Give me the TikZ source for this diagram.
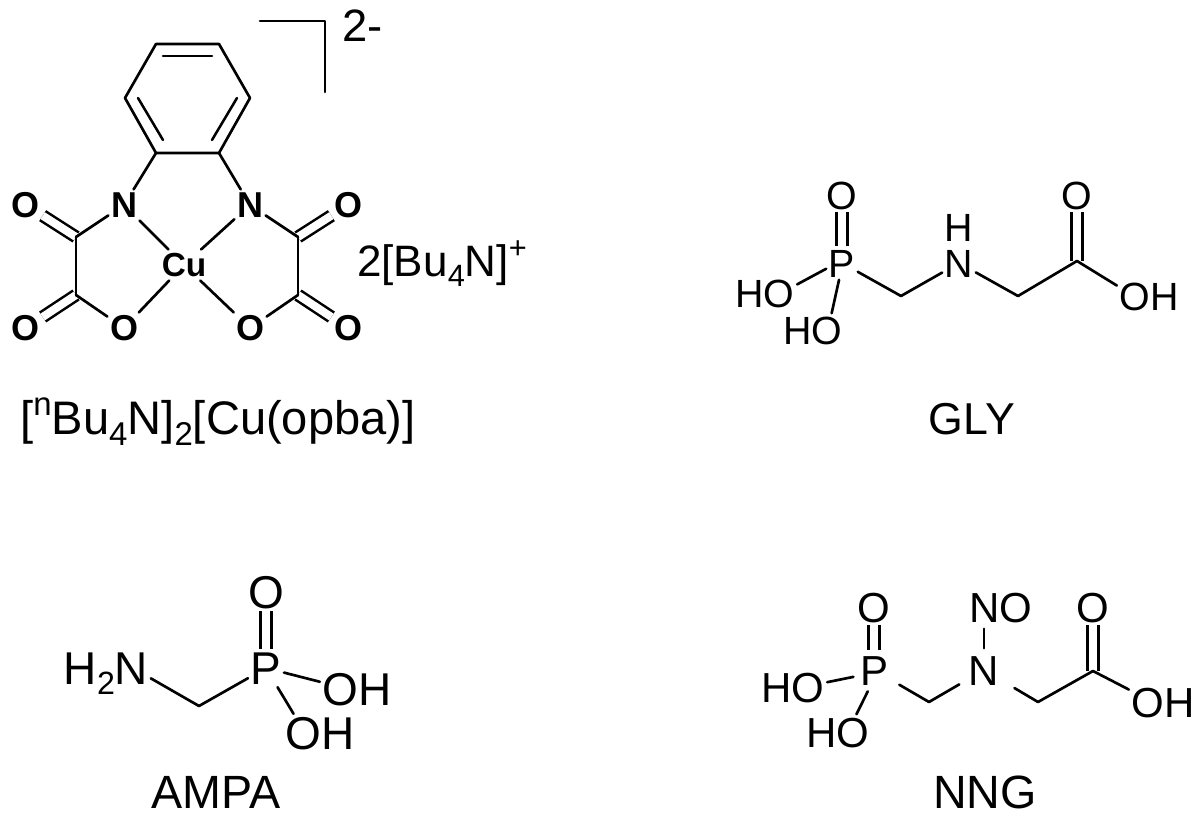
\documentclass[tikz,border=0pt]{standalone}
\usepackage{fontspec}
\setmainfont{Liberation Sans}
\newcommand{\fs}[1]{\fontsize{#1}{#1}\selectfont}
\newcommand{\subx}[1]{\raisebox{-0.22em}{\fontsize{0.7em}{0.7em}\selectfont #1}}
\newcommand{\supx}[1]{\raisebox{0.42em}{\fontsize{0.7em}{0.7em}\selectfont #1}}
\tikzset{
  bond/.style={line width=2pt,line cap=round,line join=round,black},
  dbl/.style={line width=1.9pt,double,double distance=6pt,black},
  inner/.style={line width=1.9pt,line cap=round,black},
  atombase/.style={inner sep=2pt,outer sep=0pt,text depth=0pt,black},
  boldatom/.style={atombase,font=\fs{27}\bfseries,text height=19.4pt},
  cu/.style={atombase,font=\fs{25}\bfseries,text height=18pt},
  gatom/.style={atombase,font=\fs{29.5},text height=21.2pt},
  aatom/.style={atombase,font=\fs{34.5},text height=24.8pt},
  natom/.style={atombase,font=\fs{31.5},text height=22.7pt},
  title/.style={inner sep=0pt,anchor=base,font=\fs{35},black},
  capt/.style={inner sep=0pt,anchor=base west,font=\fs{34},black}
}
\begin{document}
\begin{tikzpicture}[x=0.75pt,y=-0.75pt]
\useasboundingbox[fill=white] (0,0) rectangle (1200,823);

% --- [Cu(opba)] ---
\coordinate (r1) at (156,44);
\coordinate (r2) at (219,44);
\coordinate (r3) at (250,98);
\coordinate (r4) at (219,153);
\coordinate (r5) at (156,153);
\coordinate (r6) at (125,98);
\coordinate (i1a) at (163,56);
\coordinate (i1b) at (212,56);
\coordinate (i2a) at (138,98);
\coordinate (i2b) at (163,140);
\coordinate (i3a) at (237,98);
\coordinate (i3b) at (212,140);
\coordinate (c1) at (76,237);
\coordinate (c2) at (76,295);
\coordinate (c3) at (298,237);
\coordinate (c4) at (298,295);
\coordinate (b1) at (260,21);
\coordinate (b2) at (325,21);
\coordinate (b3) at (325,92);
\node[boldatom] (N1) at (124,205) {N};
\node[boldatom] (N2) at (250,205) {N};
\node[boldatom] (O1) at (26,205) {O};
\node[boldatom] (O2) at (348,205) {O};
\node[boldatom] (O3) at (26,328) {O};
\node[boldatom] (O4) at (348,328) {O};
\node[boldatom] (O5) at (124,328) {O};
\node[boldatom] (O6) at (250,328) {O};
\node[cu] (Cu) at (184,265) {Cu};
\node[capt] (charge) at (342,42) {2-};
\node[capt,font=\fs{33}] (cat) at (357,277) {2[Bu\subx{4}N]\supx{+}};
\node[capt,font=\fs{35.3}] (cap1) at (20,435) {[\supx{n}Bu\subx{4}N]\subx{2}[Cu(opba)]};
\draw[dbl] (O1) -- (c1);
\draw[dbl] (O2) -- (c3);
\draw[dbl] (O3) -- (c2);
\draw[dbl] (O4) -- (c4);
\draw[bond] (r1) -- (r2) -- (r3) -- (r4) -- (r5) -- (r6) -- cycle;
\draw[inner] (i1a) -- (i1b);
\draw[inner] (i2a) -- (i2b);
\draw[inner] (i3a) -- (i3b);
\draw[bond] (r5) -- (N1);
\draw[bond] (r4) -- (N2);
\draw[bond] (N1) -- (c1);
\draw[bond] (N2) -- (c3);
\draw[bond] (c1) -- (c2);
\draw[bond] (c3) -- (c4);
\draw[bond] (c2) -- (O5);
\draw[bond] (c4) -- (O6);
\draw[bond,shorten >=1pt] (N1) -- (Cu);
\draw[bond,shorten >=1pt] (N2) -- (Cu);
\draw[bond,shorten >=1pt] (O5) -- (Cu);
\draw[bond,shorten >=1pt] (O6) -- (Cu);
\draw[bond] (b1) -- (b2) -- (b3);

% --- GLY ---
\coordinate (gc1) at (901,296);
\coordinate (gc2) at (1018,296);
\coordinate (gc3) at (1077,261);
\node[gatom] (gO1) at (842,195) {O};
\node[gatom] (gP) at (842,263) {P};
\node[gatom] (gHO1) at (765,293) {HO};
\node[gatom] (gHO2) at (813,330) {HO};
\node[gatom] (gN) at (959,263) {N};
\node[gatom] (gH) at (959,227) {H};
\node[gatom] (gO2) at (1077,195) {O};
\node[gatom] (gOH) at (1149,296) {OH};
\node[title,font=\fs{33.5}] (gT) at (972,435) {GLY};
\draw[dbl] (gO1) -- (gP);
\draw[dbl] (gO2) -- (gc3);
\draw[bond] (gP.200) -- (gHO1.15);
\draw[bond] (gP.260) -- (gHO2.42);
\draw[bond] (gP) -- (gc1);
\draw[bond] (gc1) -- (gN);
\draw[bond] (gN) -- (gc2);
\draw[bond] (gc2) -- (gc3);
\draw[bond] (gc3) -- (gOH.162);

% --- AMPA ---
\coordinate (ac1) at (199,706);
\node[aatom] (aO) at (266,592) {O};
\node[aatom] (aP) at (266,668) {P};
\node[aatom] (aN) at (106,668) {H\subx{2}N};
\node[aatom] (aOH1) at (357,689) {OH};
\node[aatom] (aOH2) at (320,733) {OH};
\node[title] (aT) at (216,808) {AMPA};
\draw[dbl] (aO) -- (aP);
\draw[bond] (aN.-13) -- (ac1);
\draw[bond] (ac1) -- (aP);
\draw[bond] (aP) -- (aOH1.169);
\draw[bond] (aP) -- (aOH2.144);

% --- NNG ---
\coordinate (nc1) at (929,702);
\coordinate (nc2) at (1038,702);
\coordinate (nc3) at (1093,671);
\node[natom] (nO1) at (874,607) {O};
\node[natom] (nP) at (874,670) {P};
\node[natom] (nHO1) at (793,687) {HO};
\node[natom] (nHO2) at (838,732) {HO};
\node[natom] (nN) at (984,670) {N};
\node[natom] (nNO) at (1001,607) {NO};
\node[natom] (nO2) at (1093,607) {O};
\node[natom] (nOH) at (1163,702) {OH};
\node[title] (nT) at (985,808) {NNG};
\draw[dbl,shorten >=2pt] (nO1) -- (nP);
\draw[dbl] (nO2) -- (nc3);
\draw[bond,shorten <=3pt] (nP.200) -- (nHO1.8);
\draw[bond,shorten <=3pt] (nP.256) -- (nHO2.44);
\draw[bond,shorten <=7.5pt] (nP) -- (nc1);
\draw[bond,shorten >=6pt] (nc1) -- (nN);
\draw[bond,shorten <=11pt] (nN) -- (nc2);
\draw[bond] (nc2) -- (nc3);
\draw[bond] (nc3) -- (nOH.160);
\draw[bond,shorten <=3pt,shorten >=3pt] (nN.north) -- (nNO.south -| nN);
\end{tikzpicture}
\end{document}
